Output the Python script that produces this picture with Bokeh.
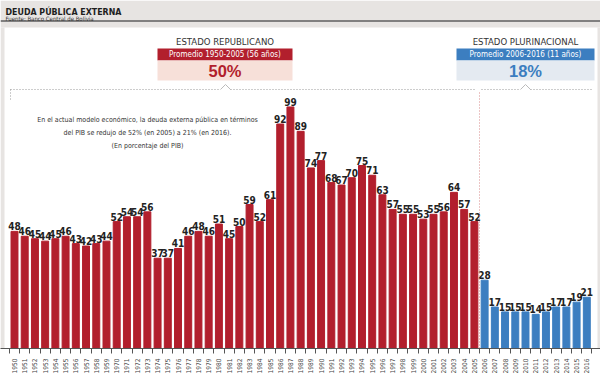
import numpy as np
from bokeh.plotting import figure
from bokeh.models import Range1d, FixedTicker
from bokeh.core.properties import value
from bokeh.embed import file_html
from bokeh.resources import INLINE

# ---- data ----
years_rep = ["1950", "1951", "1952", "1953", "1954", "1955", "1956", "1957", "1958", "1959",
             "1970", "1971", "1972", "1973", "1974", "1975", "1976", "1977", "1978", "1979",
             "1980", "1981", "1982", "1983", "1984", "1985", "1986", "1987", "1988", "1989",
             "1990", "1991", "1992", "1993", "1994", "1995", "1996", "1997", "1998", "1999",
             "2000", "2001", "2002", "2003", "2004", "2005"]
deuda_rep = [48, 46, 45, 44, 45, 46, 43, 42, 43, 44, 52, 54, 54, 56, 37, 37, 41, 46, 48, 46,
             51, 45, 50, 59, 52, 61, 92, 99, 89, 74, 77, 68, 67, 70, 75, 71, 63, 57, 55, 55,
             53, 55, 56, 64, 57, 52]
years_plu = ["2006", "2007", "2008", "2009", "2010", "2011", "2012", "2013", "2014", "2015", "2016"]
deuda_plu = [28, 17, 15, 15, 15, 14, 15, 17, 17, 19, 21]

prom_rep = "50%"
prom_plu = "18%"

RED = "#b21f2d"
BLUE = "#3c7ec0"
FONT = "DejaVu Sans Condensed"

# ---- geometry helpers (figure pixels -> data) ----
W, H = 600, 381
BASE = 348.0
BOTTOM = H - int(BASE)
PXU = 2.44
PITCH = 10.22
FIRST = 14.0


def xd(px):
    return (px - FIRST) / PITCH


def yd(py):
    return (BASE - py) / PXU


n_rep = len(deuda_rep)
n_plu = len(deuda_plu)
x_rep = list(range(n_rep))
x_plu = list(range(n_rep, n_rep + n_plu))
years = years_rep + years_plu

p = figure(width=W, height=H, output_backend="svg", toolbar_location=None,
           x_range=Range1d(xd(0), xd(W)), y_range=Range1d(0, yd(0)),
           min_border_left=0, min_border_right=0, min_border_top=0, min_border_bottom=BOTTOM)
p.outline_line_color = None
p.background_fill_color = "white"
p.border_fill_color = "white"
p.grid.visible = False
p.yaxis.visible = False

GRAY = "#e7e4e2"
# header band and side strips
p.quad(left=xd(0), right=xd(W), top=yd(0), bottom=yd(27), color=GRAY, line_color=None)
p.quad(left=[xd(0), xd(597)], right=[xd(4), xd(W)], top=[yd(27)] * 2, bottom=[0, 0],
       color=GRAY, line_color=None)
p.segment(x0=xd(0), x1=xd(W), y0=yd(20.5), y1=yd(20.5), line_color="#5f5f5f", line_width=1.5)
p.text(x=[xd(5)], y=[yd(11)], text=["DEUDA PÚBLICA EXTERNA"], text_font=value(FONT),
       text_font_style="bold", text_font_size="8.8px", text_color="#1e1e1e",
       text_baseline="alphabetic")
p.text(x=[xd(5)], y=[yd(18)], text=["Fuente: Banco Central de Bolivia"], text_font=value(FONT),
       text_font_size="6px", text_color="#333333", text_baseline="alphabetic")

# bars
p.vbar(x=x_rep, top=deuda_rep, width=0.68, color=RED)
p.vbar(x=x_plu, top=deuda_plu, width=0.68, color=BLUE)

# value labels
p.text(x=x_rep + x_plu, y=deuda_rep + deuda_plu, text=[str(v) for v in deuda_rep + deuda_plu],
       text_font=value(FONT), text_font_style="bold", text_font_size="10px",
       text_color="#222222", text_align="center", text_baseline="bottom", y_offset=-1)

# dotted guides
DOT = "#9a9a9a"
p.line(x=[xd(10), xd(220)], y=[yd(89), yd(89)], line_dash="1 2", line_color=DOT)
p.line(x=[xd(220), xd(225), xd(230)], y=[yd(89), yd(84), yd(89)], line_color="#bbbbbb")
p.line(x=[xd(230), xd(476)], y=[yd(89), yd(89)], line_dash="1 2", line_color=DOT)
p.line(x=[xd(481), xd(520)], y=[yd(89), yd(89)], line_dash="1 2", line_color=DOT)
p.line(x=[xd(520), xd(525), xd(530)], y=[yd(89), yd(84), yd(89)], line_color="#bbbbbb")
p.line(x=[xd(530), xd(592)], y=[yd(89), yd(89)], line_dash="1 2", line_color=DOT)
p.line(x=[xd(10), xd(10)], y=[yd(89), yd(100)], line_dash="1 2", line_color=DOT)
sep = (n_rep - 1 + n_rep) / 2
p.line(x=[sep, sep], y=[yd(92), 0], line_dash="1 2", line_color="#d88a8a")

# boxes
TY, B0, B1, B2, PY = 40.5, 48, 60, 80, 70.5
p.text(x=[xd(224.5)], y=[yd(TY)], text=["ESTADO REPUBLICANO"], text_font=value(FONT),
       text_font_size="9.5px", text_color="#333333", text_align="center", text_baseline="middle")
p.quad(left=xd(157), right=xd(292), top=yd(B0), bottom=yd(B1), color=RED, line_color=None)
p.quad(left=xd(157), right=xd(292), top=yd(B1), bottom=yd(B2), color="#f7e0d9", line_color=None)
p.text(x=[xd(224.5)], y=[yd((B0 + B1) / 2)], text=["Promedio 1950-2005 (56 años)"],
       text_font=value(FONT), text_font_size="8px", text_color="white", text_align="center",
       text_baseline="middle")
p.text(x=[xd(224.5)], y=[yd(PY)], text=[prom_rep], text_font=value("Liberation Sans"),
       text_font_style="bold", text_font_size="16.5px", text_color=RED, text_align="center",
       text_baseline="middle")

p.text(x=[xd(525)], y=[yd(TY)], text=["ESTADO PLURINACIONAL"], text_font=value(FONT),
       text_font_size="9.5px", text_color="#333333", text_align="center", text_baseline="middle")
p.quad(left=xd(456), right=xd(594), top=yd(B0), bottom=yd(B1), color=BLUE, line_color=None)
p.quad(left=xd(456), right=xd(594), top=yd(B1), bottom=yd(B2), color="#e4eaf1", line_color=None)
p.text(x=[xd(525)], y=[yd((B0 + B1) / 2)], text=["Promedio 2006-2016 (11 años)"],
       text_font=value(FONT), text_font_size="8px", text_color="white", text_align="center",
       text_baseline="middle")
p.text(x=[xd(525)], y=[yd(PY)], text=[prom_plu], text_font=value("Liberation Sans"),
       text_font_style="bold", text_font_size="16.5px", text_color=BLUE, text_align="center",
       text_baseline="middle")

# note
note = ["En el actual modelo económico, la deuda externa pública en términos",
        "del PIB se redujo de 52% (en 2005) a 21% (en 2016).",
        "(En porcentaje del PIB)"]
p.text(x=[xd(147)] * 3, y=[yd(119), yd(132), yd(145)], text=note, text_font=value(FONT),
       text_font_size="7px", text_color="#333333", text_align="center", text_baseline="middle")

# axis
ax = p.xaxis[0]
ax.ticker = FixedTicker(ticks=list(range(n_rep + n_plu)),
                        minor_ticks=[i - 0.5 for i in range(n_rep + n_plu + 1)])
ax.major_label_overrides = {i: y for i, y in enumerate(years)}
ax.major_label_orientation = np.pi / 2
ax.major_label_text_font = FONT
ax.major_label_text_font_size = "6.5px"
ax.major_label_text_color = "#444444"
ax.major_label_standoff = 4
ax.major_tick_line_color = None
ax.minor_tick_in = 0
ax.minor_tick_out = 5
ax.minor_tick_line_color = "#555555"
ax.axis_line_color = "#555555"

open("out.html", "w").write(file_html(p, INLINE))
